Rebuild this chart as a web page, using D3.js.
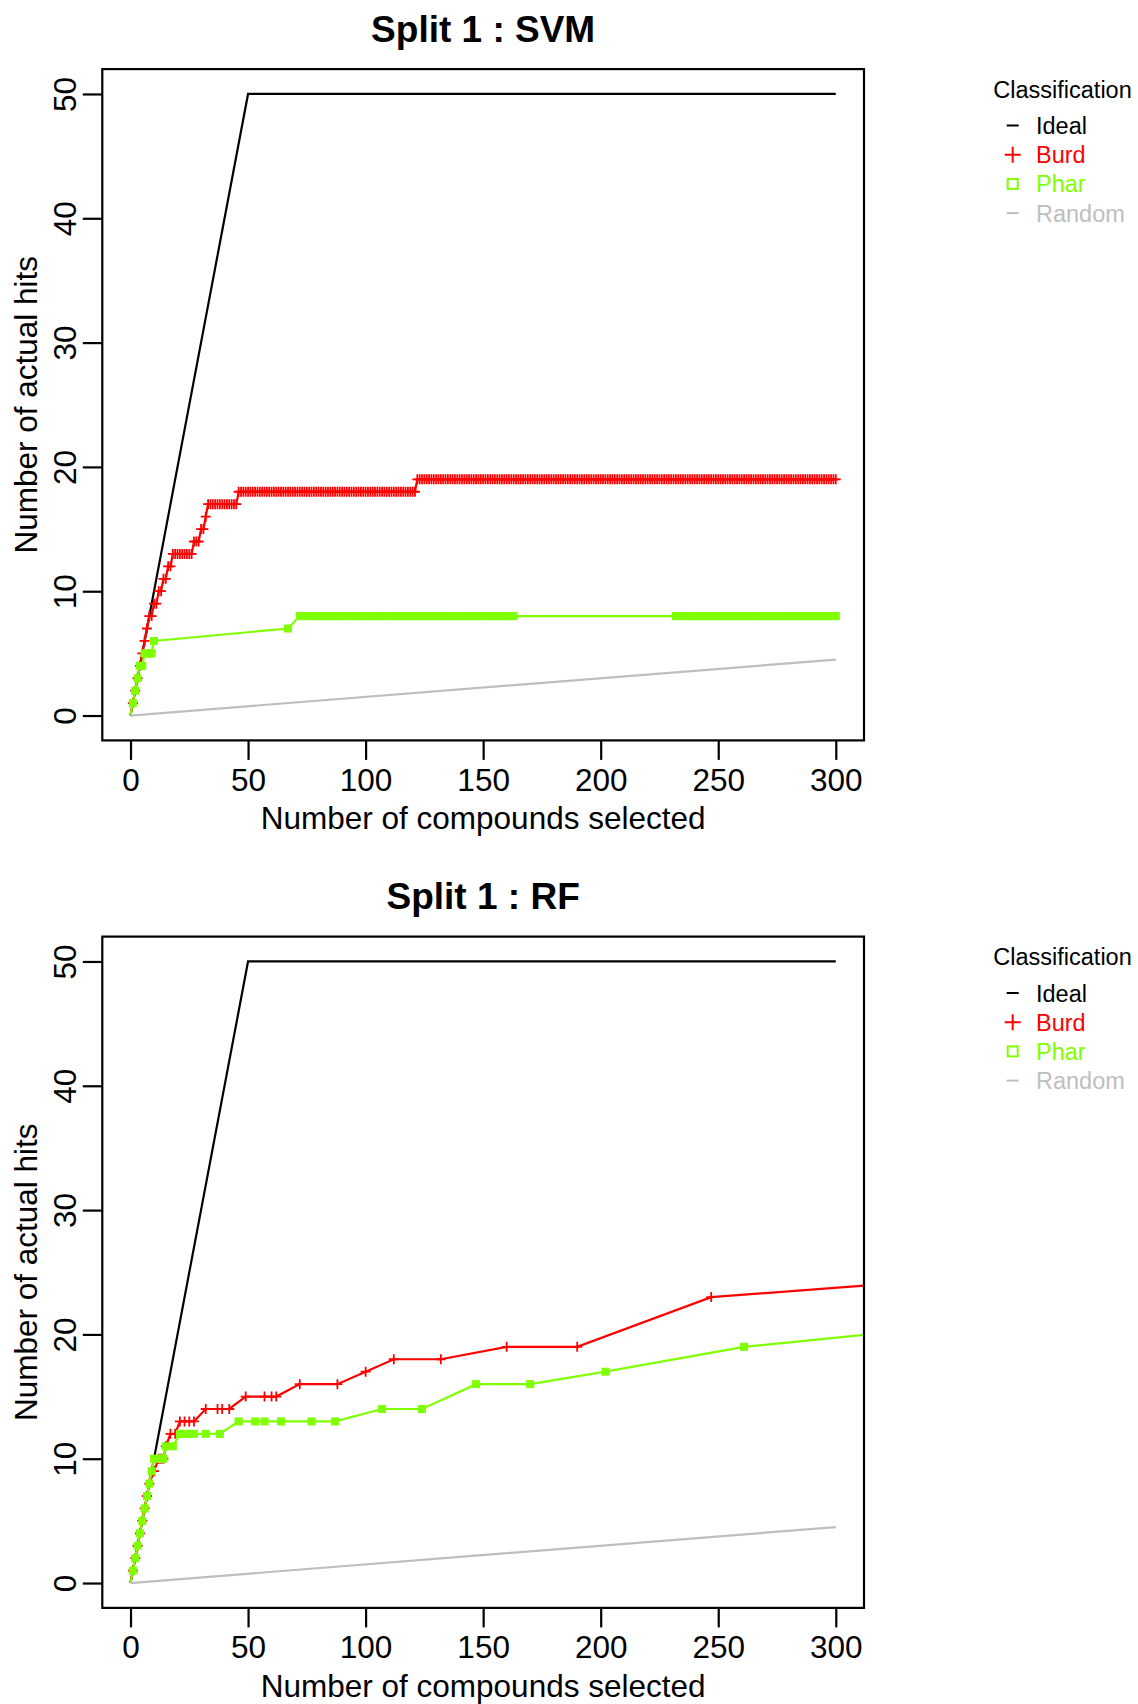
<!DOCTYPE html>
<html><head><meta charset="utf-8">
<script src="https://cdn.jsdelivr.net/npm/d3@7"></script>
<style>
html,body{margin:0;padding:0;background:#fff;}
text{font-family:"Liberation Sans",Arial,Helvetica,sans-serif;}
</style></head>
<body>
<svg id="chart" width="1138" height="1704"></svg>
<script>
// ---------- data ----------
const panelTitles = ["Split 1 : SVM", "Split 1 : RF"];
const xTicks = [0, 50, 100, 150, 200, 250, 300];
const yTicks = [0, 10, 20, 30, 40, 50];
const legendTitle = "Classification";
const legendLabels = ["Ideal", "Burd", "Phar", "Random"];
const seriesColors = ["#000000", "#FF0000", "#7FFF00", "#BEBEBE"];

const idealX = [0, 50, 300];
const idealY = [0, 50, 50];
const randomX = [0, 300];
const randomY = [0, 4.5];

// SVM: runs of [first compound, last compound, cumulative hits], one marker per compound
const svmBurdRuns = [[1,1,1],[2,2,2],[3,3,3],[4,4,4],[5,5,5],[6,6,6],[7,7,7],[8,9,8],[10,11,9],
  [12,13,10],[14,15,11],[16,17,12],[18,26,13],[27,29,14],[30,31,15],[32,32,16],[33,45,17],
  [46,121,18],[122,300,19]];
const svmPharRuns = [[1,1,1],[2,2,2],[3,3,3],[4,5,4],[6,9,5],[10,10,6],[67,67,7],[72,72,8],
  [75,163,8],[232,300,8]];

// RF: individual points
const rfBurdX = [1,2,3,4,5,6,7,8,10,12,13,14,15,17,19,21,23,25,27,32,37,39,42,49,57,60,62,72,88,100,112,132,160,190,247,317];
const rfBurdY = [1,2,3,4,5,6,7,8,9,10,10,10,11,12,12,13,13,13,13,14,14,14,14,15,15,15,15,16,16,17,18,18,19,19,23,24];
const rfPharX = [1,2,3,4,5,6,7,8,9,10,12,13,14,15,18,21,23,24,27,32,38,46,53,57,64,77,87,107,124,147,170,202,261,314];
const rfPharY = [1,2,3,4,5,6,7,8,9,10,10,10,10,11,11,12,12,12,12,12,12,13,13,13,13,13,13,14,14,16,16,17,19,20];

// ---------- helpers ----------
function expandRuns(runs){
  const pts = [];
  runs.forEach(([a,b,v]) => { for (let x = a; x <= b; x++) pts.push([x, v]); });
  return pts;
}
function zipXY(xs, ys){ return xs.map((x,i) => [x, ys[i]]); }

const panels = [
  {title: panelTitles[0], burd: expandRuns(svmBurdRuns), phar: expandRuns(svmPharRuns), dy: 0},
  {title: panelTitles[1], burd: zipXY(rfBurdX, rfBurdY), phar: zipXY(rfPharX, rfPharY), dy: 867.5}
];

const svg = d3.select("#chart");
const box = {left: 102.3, right: 864, top: 69.1, bottom: 740.4};
const x = d3.scaleLinear().domain([-12, 312]).range([box.left, box.right]);
const y = d3.scaleLinear().domain([-2, 52]).range([box.bottom, box.top]);
const line = d3.line().x(d => x(d[0])).y(d => y(d[1]));

panels.forEach((p, pi) => {
  const g = svg.append("g").attr("transform", `translate(0,${p.dy})`);
  const clipId = "clip" + pi;
  g.append("clipPath").attr("id", clipId).append("rect")
    .attr("x", box.left).attr("y", box.top)
    .attr("width", box.right - box.left).attr("height", box.bottom - box.top);

  const plot = g.append("g").attr("clip-path", `url(#${clipId})`);
  const ideal = zipXY(idealX, idealY);
  const random = zipXY(randomX, randomY);

  plot.append("path").datum(ideal).attr("d", line)
    .attr("fill", "none").attr("stroke", seriesColors[0]).attr("stroke-width", 2.2);

  // Burd
  plot.append("path").datum([[0,0]].concat(p.burd)).attr("d", line)
    .attr("fill", "none").attr("stroke", seriesColors[1]).attr("stroke-width", 2.2);
  plot.append("g").selectAll("path").data(p.burd).join("path")
    .attr("transform", d => `translate(${x(d[0])},${y(d[1])})`)
    .attr("d", "M-5,0H5M0,-5V5")
    .attr("stroke", seriesColors[1]).attr("stroke-width", 1.8).attr("fill", "none");

  // Phar
  plot.append("path").datum([[0,0]].concat(p.phar)).attr("d", line)
    .attr("fill", "none").attr("stroke", seriesColors[2]).attr("stroke-width", 2.2);
  plot.append("g").selectAll("rect").data(p.phar).join("rect")
    .attr("x", d => x(d[0]) - 3.3).attr("y", d => y(d[1]) - 3.3)
    .attr("width", 6.6).attr("height", 6.6)
    .attr("fill", seriesColors[2]).attr("stroke", seriesColors[2]).attr("stroke-width", 1.4);

  // Random
  plot.append("path").datum(random).attr("d", line)
    .attr("fill", "none").attr("stroke", seriesColors[3]).attr("stroke-width", 2.2);

  // box
  g.append("rect").attr("x", box.left).attr("y", box.top)
    .attr("width", box.right - box.left).attr("height", box.bottom - box.top)
    .attr("fill", "none").attr("stroke", "#000").attr("stroke-width", 2.2);

  // x axis
  const xa = g.append("g").attr("transform", `translate(0,${box.bottom})`)
    .call(d3.axisBottom(x).tickValues(xTicks).tickSize(19.5).tickSizeOuter(0));
  xa.select(".domain").remove();
  xa.selectAll(".tick line").attr("stroke", "#000").attr("stroke-width", 2.2);
  xa.selectAll(".tick text").attr("y", 50.4).attr("dy", 0)
    .attr("font-size", "31.5px").attr("fill", "#000")
    .style("font-family", '"Liberation Sans",Arial,sans-serif');

  // y axis
  const ya = g.append("g").attr("transform", `translate(${box.left},0)`)
    .call(d3.axisLeft(y).tickValues(yTicks).tickSize(19.5).tickSizeOuter(0));
  ya.select(".domain").remove();
  ya.selectAll(".tick line").attr("stroke", "#000").attr("stroke-width", 2.2);
  ya.selectAll(".tick text").attr("x", 0).attr("dy", 0)
    .attr("transform", "translate(-26.3,0) rotate(-90)")
    .attr("text-anchor", "middle")
    .attr("font-size", "31.5px").attr("fill", "#000")
    .style("font-family", '"Liberation Sans",Arial,sans-serif');

  // title & axis labels
  const cx = (box.left + box.right) / 2;
  g.append("text").attr("x", cx).attr("y", 41.7).attr("text-anchor", "middle")
    .attr("font-size", "37px").attr("font-weight", "bold").text(p.title);
  g.append("text").attr("x", cx).attr("y", 829.2).attr("text-anchor", "middle")
    .attr("font-size", "31.5px").text("Number of compounds selected");
  g.append("text").attr("transform", `translate(36.7,${(box.top + box.bottom) / 2}) rotate(-90)`)
    .attr("text-anchor", "middle").attr("font-size", "31.5px").text("Number of actual hits");

  // legend
  const lg = g.append("g");
  lg.append("text").attr("x", 993.3).attr("y", 97.7).attr("font-size", "23.5px").text(legendTitle);
  legendLabels.forEach((lab, i) => {
    const by = 134 + i * 29.2;
    const sy = by - 8.5;
    const sx = 1012.7;
    if (i === 0 || i === 3) {
      lg.append("line").attr("x1", sx - 6).attr("x2", sx + 6).attr("y1", sy).attr("y2", sy)
        .attr("stroke", seriesColors[i]).attr("stroke-width", 2);
    } else if (i === 1) {
      lg.append("path").attr("transform", `translate(${sx},${sy})`)
        .attr("d", "M-8,0H8M0,-8V8").attr("stroke", seriesColors[i]).attr("stroke-width", 2).attr("fill", "none");
    } else {
      lg.append("rect").attr("x", sx - 5).attr("y", sy - 5).attr("width", 10).attr("height", 10)
        .attr("stroke", seriesColors[i]).attr("stroke-width", 2).attr("fill", "none");
    }
    lg.append("text").attr("x", 1036).attr("y", by).attr("font-size", "23.5px")
      .attr("fill", seriesColors[i]).text(lab);
  });
});
</script>
</body></html>
